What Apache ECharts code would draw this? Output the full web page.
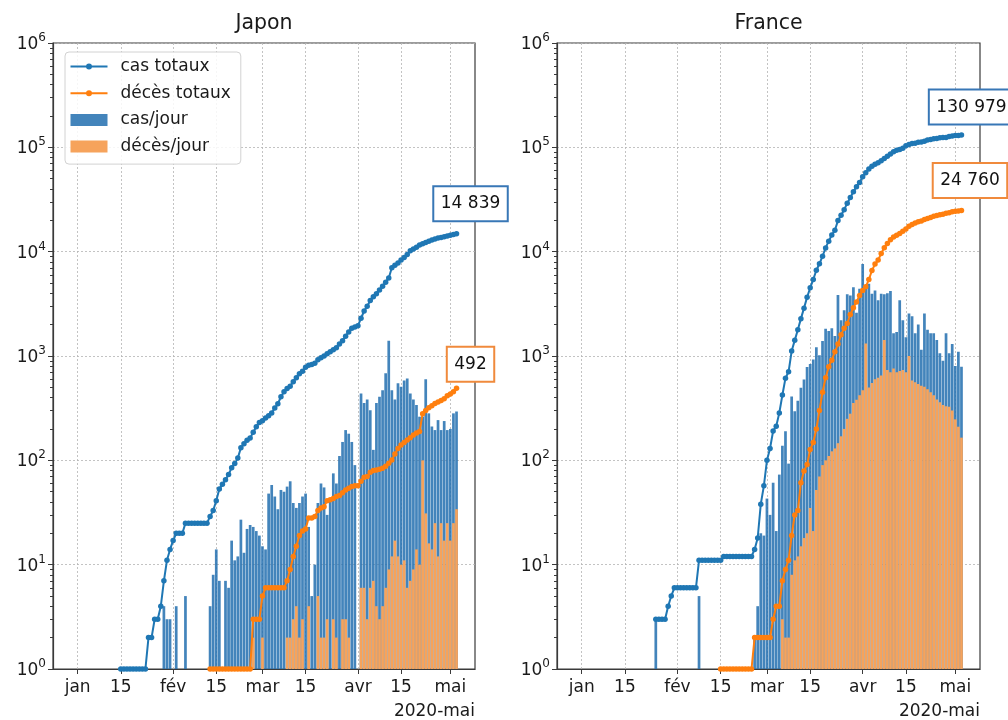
<!DOCTYPE html>
<html>
<head>
<meta charset="utf-8">
<script src="https://cdn.jsdelivr.net/npm/echarts@6.0.0/dist/echarts.min.js"></script>
<style>
html,body{margin:0;padding:0;background:#fff;}
#chart{width:1008px;height:720px;}
</style>
</head>
<body>
<div id="chart"></div>
<script>
// ---------------- data ----------------
const AXIS_START = '2019-12-24';
const AXIS_DAYS = 138;               // 24 Dec 2019 .. 9 May 2020
const monthLabels = ['jan', 'fév', 'mar', 'avr', 'mai'];
const offsetLabel = '2020-mai';
const panelTitles = ['Japon', 'France'];
const legendNames = ['cas totaux', 'décès totaux', 'cas/jour', 'décès/jour'];

// Japon : valeurs quotidiennes du 15 janvier au 3 mai 2020
const JP_START = '2020-01-15';
const jpCasesTotal = [
  1,1,1,1,1,1,1,1,1,2,
  2,3,3,4,7,11,14,17,20,20,
  20,25,25,25,25,25,25,25,25,29,
  33,41,53,59,65,73,85,93,105,132,
  144,156,164,186,210,230,239,254,268,284,
  317,348,407,454,488,514,568,619,675,716,
  780,814,829,850,920,960,1000,1050,1100,1150,
  1200,1300,1400,1550,1700,1850,1900,1950,2300,2700,
  3000,3400,3700,3950,4300,4650,5100,5600,7000,7400,
  7800,8300,8800,9400,10200,10600,11000,11600,11900,12250,
  12600,12950,13250,13500,13700,13900,14150,14350,14600,14839
];
const jpDeathsTotal = [
  0,0,0,0,0,0,0,0,0,0,
  0,0,0,0,0,0,0,0,0,0,
  0,0,0,0,0,0,0,0,0,1,
  1,1,1,1,1,1,1,1,1,1,
  1,1,1,3,3,3,5,6,6,6,
  6,6,6,6,7,9,12,15,19,21,
  22,28,28,29,33,35,36,41,42,43,
  45,46,49,52,54,56,57,57,63,69,
  70,77,80,81,82,84,88,94,101,115,
  130,140,148,157,165,175,183,189,280,300,
  320,334,350,362,375,390,415,432,455,492
];
const jpCasesDaily = [
  1,0,0,0,0,0,0,0,0,1,
  0,1,0,1,4,3,3,1,4,0,
  0,5,0,0,0,0,0,0,0,4,
  8,14,7,0,7,6,17,11,12,27,
  13,22,24,23,21,19,15,14,48,58,
  45,34,52,50,56,63,39,35,39,45,
  48,23,5,10,39,60,55,30,42,75,
  60,110,150,195,180,150,90,0,438,354,
  382,302,126,354,407,470,685,1400,470,382,
  547,507,583,610,438,382,340,262,262,600,
  282,211,195,243,195,238,195,200,282,293
];
const jpDeathsDaily = [
  0,0,0,0,0,0,0,0,0,0,
  0,0,0,0,0,0,0,0,0,0,
  0,0,0,0,0,0,0,0,0,1,
  0,0,0,0,0,0,0,0,0,0,
  0,0,0,2,0,0,2,1,0,0,
  0,0,0,0,2,2,3,4,2,3,
  1,4,1,1,5,2,2,3,1,3,
  2,1,3,3,2,1,1,0,6,6,
  3,6,7,4,3,4,6,9,12,17,
  12,10,11,6,7,9,14,10,100,31,
  16,14,25,12,25,17,25,17,25,34
];

// France : valeurs quotidiennes du 25 janvier au 3 mai 2020
const FR_START = '2020-01-25';
const frCasesTotal = [
  3,3,3,3,4,5,6,6,6,6,
  6,6,6,6,11,11,11,11,11,11,
  11,11,12,12,12,12,12,12,12,12,
  12,12,14,18,38,57,100,130,191,212,
  285,423,613,706,1116,1412,1784,2281,2876,3661,
  4499,5423,6633,7652,9043,10871,12612,14459,16018,19856,
  22302,25233,29155,32964,37575,42000,46000,52128,57000,62000,
  66000,69000,71000,74390,78167,82048,86334,90676,93790,95403,
  98076,103573,106206,108847,109252,111821,112606,114657,117324,119151,
  120804,121407,123279,124114,124575,126835,128339,129581,130185,130979
];
const frDeathsTotal = [
  0,0,0,0,0,0,0,0,0,0,
  0,0,0,0,0,0,0,0,0,0,
  0,1,1,1,1,1,1,1,1,1,
  1,1,2,2,2,2,2,2,3,4,
  4,7,9,11,19,30,33,61,79,91,
  127,148,200,300,450,620,790,912,1100,1300,
  1600,1850,2050,2500,2900,3300,3800,4250,4600,5400,
  6600,7600,8300,9600,10900,12000,13000,13800,14400,14900,
  15700,16500,17500,18200,18800,19300,19700,20300,20800,21300,
  21850,22250,22600,22850,23300,23650,24100,24380,24600,24760
];
const frCasesDaily = [
  3,0,0,0,1,1,1,0,0,0,
  0,0,0,0,5,0,0,0,0,0,
  0,0,1,0,0,0,0,0,0,0,
  0,0,2,4,20,19,43,30,61,21,
  73,138,190,93,410,296,372,497,595,785,
  838,924,1210,1019,1391,1828,1741,1847,1559,3838,
  2200,2750,3900,3800,4570,2600,4400,7600,4570,4920,
  3950,4250,3430,3950,3900,4000,4200,1650,1700,3430,
  2200,1510,2560,2400,1650,2000,1150,2560,1780,1650,
  1650,1420,1060,900,1650,1060,1300,800,1100,790
];
const frDeathsDaily = [
  0,0,0,0,0,0,0,0,0,0,
  0,0,0,0,0,0,0,0,0,0,
  0,1,0,0,0,0,0,0,0,0,
  0,0,1,0,0,0,0,0,1,1,
  0,3,2,2,8,11,12,15,18,20,
  35,21,52,70,90,100,110,122,130,146,
  170,200,250,280,355,380,420,470,1320,500,
  550,600,620,650,1420,735,700,760,700,720,
  735,700,1000,583,560,540,520,507,480,450,
  420,382,360,340,330,327,300,247,210,165
];

// ---------------- styles ----------------
const FONT = 'DejaVu Sans';
const TXT = '#1a1a1a';
const AX = '#3a3a3a';
const GRIDC = '#b4b4b4';
const BLUE = '#1f77b4';
const ORANGE = '#ff7f0e';
const BAR_BLUE = 'rgba(36,112,176,0.86)';
const BAR_ORANGE = '#f6a35c';
const BOX_BLUE = '#3877b6';
const BOX_ORANGE = '#f08a3c';
const SYM = 5.5;

// ---------------- helpers ----------------
const DAY = 86400000;
const t0 = Date.parse(AXIS_START + 'T00:00:00Z');
const axisDays = [];
for (let i = 0; i < AXIS_DAYS; i++) axisDays.push(new Date(t0 + i * DAY).toISOString().slice(0, 10));

function place(values, start) {
  const off = Math.round((Date.parse(start + 'T00:00:00Z') - t0) / DAY);
  const out = new Array(AXIS_DAYS).fill(null);
  values.forEach((v, i) => { out[off + i] = v > 0 ? v : null; });
  return out;
}
function fmtThousands(v) { return String(v).replace(/\B(?=(\d{3})+(?!\d))/g, ' '); }
function withEndLabel(arr, color, dx, dy) {
  let i = arr.length - 1;
  while (arr[i] == null) i--;
  const v = arr[i];
  arr[i] = {
    value: v,
    label: {
      show: true, position: [SYM / 2 + dx, SYM / 2 + dy], align: 'center', verticalAlign: 'middle',
      formatter: fmtThousands(v), fontFamily: FONT, fontSize: 17, color: '#111',
      backgroundColor: '#fff', borderColor: color, borderWidth: 2,
      padding: [7, 6.5, 6, 6.5], lineHeight: 20
    }
  };
  return arr;
}
function isTickDay(index, value) {
  const d = +String(value).slice(8, 10);
  return d === 1 || d === 15;
}
function tickLabel(value) {
  const d = +String(value).slice(8, 10);
  const m = +String(value).slice(5, 7);
  if (d === 1) return monthLabels[m - 1] || '';
  if (d === 15) return '15';
  return '';
}
const minorTickExps = [];
for (let k = 0; k < 6; k++) for (let m = 2; m <= 9; m++) minorTickExps.push(k + Math.log10(m));

const grids = [
  { left: 53, top: 43, width: 422, height: 627 },
  { left: 557, top: 43, width: 423, height: 627 }
];

const xAxes = grids.map((g, gi) => ({
  type: 'category', gridIndex: gi, data: axisDays, boundaryGap: false,
  axisLine: { show: true, lineStyle: { color: AX, width: 1.2 } },
  axisTick: { show: true, length: 5, interval: isTickDay, lineStyle: { color: AX, width: 1 } },
  axisLabel: { interval: isTickDay, formatter: tickLabel, margin: 10, fontFamily: FONT, fontSize: 17, color: TXT },
  splitLine: { show: true, interval: isTickDay, lineStyle: { color: GRIDC, type: [2, 2], width: 0.8 } },
  name: offsetLabel, nameLocation: 'end', nameGap: 0,
  nameTextStyle: { fontFamily: FONT, fontSize: 17, color: TXT, align: 'right', verticalAlign: 'top', padding: [34, 0, 0, 0] }
}));

const yAxes = [];
grids.forEach((g, gi) => {
  yAxes.push({
    type: 'log', logBase: 10, gridIndex: gi, min: 1, max: 1e6, splitNumber: 6, position: 'left',
    axisLine: { show: true, lineStyle: { color: AX, width: 1.2 } },
    axisTick: { show: true, length: 5, lineStyle: { color: AX, width: 1 } },
    axisLabel: {
      margin: 7,
      formatter: v => '{b|10}{s|' + Math.round(Math.log10(v)) + '}',
      rich: {
        b: { fontFamily: FONT, fontSize: 17, color: TXT, verticalAlign: 'bottom', lineHeight: 20 },
        s: { fontFamily: FONT, fontSize: 12, color: TXT, verticalAlign: 'bottom', lineHeight: 12, padding: [0, 0, 9, 0] }
      }
    },
    splitLine: { show: true, lineStyle: { color: GRIDC, type: [2, 2], width: 0.8 } }
  });
  yAxes.push({
    type: 'value', gridIndex: gi, min: 0, max: 6, position: 'left',
    axisLine: { show: false },
    axisLabel: { show: false, customValues: minorTickExps },
    splitLine: { show: false },
    axisTick: { show: true, length: 3, customValues: minorTickExps, lineStyle: { color: AX, width: 1 } }
  });
});

const countries = [
  { start: JP_START, casesTotal: jpCasesTotal, deathsTotal: jpDeathsTotal, casesDaily: jpCasesDaily, deathsDaily: jpDeathsDaily,
    casesLbl: [14, -30], deathsLbl: [14, -24] },
  { start: FR_START, casesTotal: frCasesTotal, deathsTotal: frDeathsTotal, casesDaily: frCasesDaily, deathsDaily: frDeathsDaily,
    casesLbl: [10, -28], deathsLbl: [8.5, -30] }
];

const series = [];
countries.forEach((c, gi) => {
  const yi = gi * 2;
  series.push({
    type: 'bar', name: legendNames[2], xAxisIndex: gi, yAxisIndex: yi, data: place(c.casesDaily, c.start),
    barWidth: '88%', barGap: '-100%', itemStyle: { color: BAR_BLUE }, z: 2, silent: true
  });
  series.push({
    type: 'bar', name: legendNames[3], xAxisIndex: gi, yAxisIndex: yi, data: place(c.deathsDaily, c.start),
    barWidth: '88%', barGap: '-100%', itemStyle: { color: BAR_ORANGE }, z: 3, silent: true
  });
  series.push({
    type: 'line', name: legendNames[0], xAxisIndex: gi, yAxisIndex: yi,
    data: withEndLabel(place(c.casesTotal, c.start), BOX_BLUE, c.casesLbl[0], c.casesLbl[1]),
    symbol: 'circle', symbolSize: SYM, showAllSymbol: true, connectNulls: false,
    lineStyle: { color: BLUE, width: 2 }, itemStyle: { color: BLUE, borderWidth: 0 }, z: 5, silent: true
  });
  series.push({
    type: 'line', name: legendNames[1], xAxisIndex: gi, yAxisIndex: yi,
    data: withEndLabel(place(c.deathsTotal, c.start), BOX_ORANGE, c.deathsLbl[0], c.deathsLbl[1]),
    symbol: 'circle', symbolSize: SYM, showAllSymbol: true, connectNulls: false,
    lineStyle: { color: ORANGE, width: 2 }, itemStyle: { color: ORANGE, borderWidth: 0 }, z: 5, silent: true
  });
});

const LINE_ICON = 'path://M0,0h0.01v0.01h-0.01z M36.99,11.99h0.01v0.01h-0.01z M0,5h37v2h-37z M15.5,6a3,3 0 1,1 6,0a3,3 0 1,1 -6,0z';

const option = {
  animation: false,
  backgroundColor: '#fff',
  title: panelTitles.map((t, i) => ({
    text: t, left: grids[i].left + grids[i].width / 2, top: 13, textAlign: 'center', padding: 0,
    textStyle: { fontFamily: FONT, fontSize: 20.5, fontWeight: 'normal', color: TXT }
  })),
  legend: {
    orient: 'vertical', left: 65, top: 52, selectedMode: false,
    itemWidth: 37, itemHeight: 12, itemGap: 9.7,
    padding: [6, 10, 9, 5.5],
    backgroundColor: 'rgba(255,255,255,0.85)', borderColor: '#d2d2d2', borderWidth: 1, borderRadius: 4,
    textStyle: { fontFamily: FONT, fontSize: 17, color: TXT, lineHeight: 17, padding: [0, 0, 0, 8] },
    itemStyle: { borderWidth: 0 },
    data: [
      { name: legendNames[0], icon: LINE_ICON },
      { name: legendNames[1], icon: LINE_ICON },
      { name: legendNames[2], icon: 'rect' },
      { name: legendNames[3], icon: 'rect' }
    ]
  },
  grid: grids.map(g => Object.assign({ show: true, borderColor: AX, borderWidth: 1.2, backgroundColor: 'transparent' }, g)),
  xAxis: xAxes,
  yAxis: yAxes,
  series: series
};

const chart = echarts.init(document.getElementById('chart'), null, { renderer: 'canvas' });
chart.setOption(option);
</script>
</body>
</html>
